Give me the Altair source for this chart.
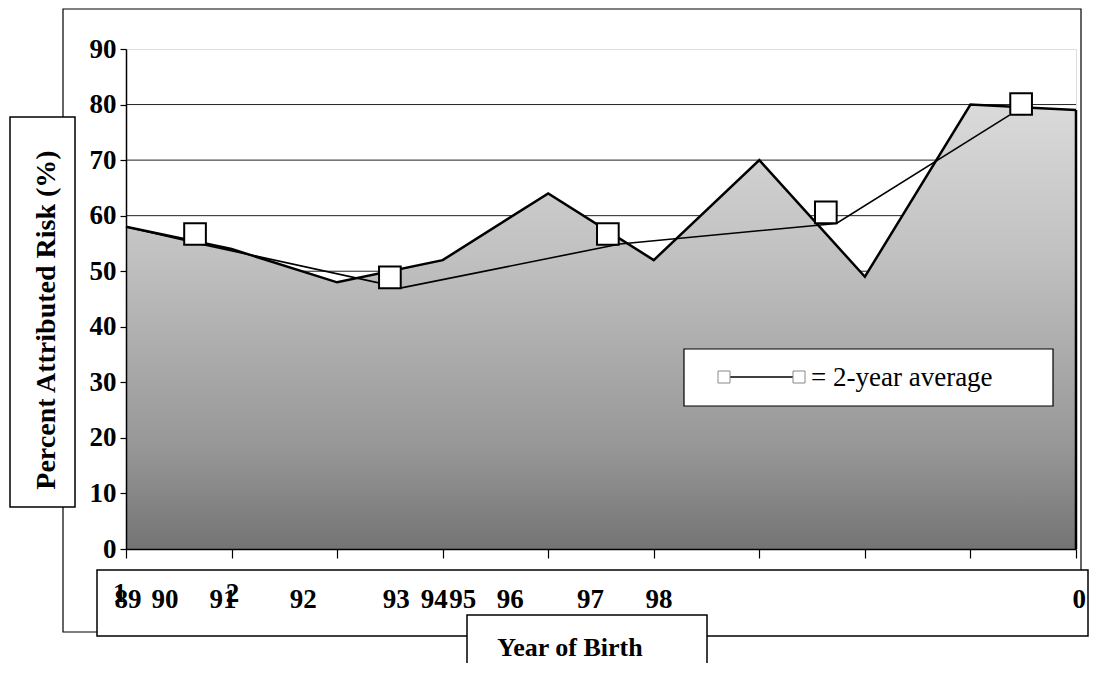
import altair as alt
import pandas as pd

# ---- data ----
idx = list(range(10))
risk = [58, 54, 48, 52, 64, 52, 70, 49, 80, 79]

avg_line_pos = [0.0, 0.755, 2.61, 4.68, 6.73, 8.37]
avg_line_val = [58.0, 54.7, 47.0, 54.9, 58.6, 78.1]
avg_marker_pos = [0.654, 2.50, 4.565, 6.63, 8.48]
avg_marker_val = [56.7, 48.9, 56.7, 60.6, 80.1]

tick_labels = ["89", "90", "91", "92", "93", "94", "95", "96", "97", "98", "0"]
tick_label_pos = [0.02, 0.37, 0.92, 1.68, 2.56, 2.92, 3.19, 3.64, 4.40, 5.05, 9.03]
raised_labels = ["1", "2"]
raised_label_pos = [-0.06, 1.01]

grid_values = [10, 20, 30, 40, 50, 60, 70, 80]
y_ticks = [0, 10, 20, 30, 40, 50, 60, 70, 80, 90]

FONT = "Liberation Serif"

df = pd.DataFrame({"idx": idx, "risk": risk})
df_last = pd.DataFrame({"idx": [idx[-1]], "risk": [risk[-1]], "zero": [0]})
df_avg_line = pd.DataFrame({"idx": avg_line_pos, "risk": avg_line_val})
df_avg_mark = pd.DataFrame({"idx": avg_marker_pos, "risk": avg_marker_val})
df_grid = pd.DataFrame({"idx": [0] * len(grid_values), "risk": grid_values})
df_lab = pd.DataFrame({"idx": tick_label_pos, "lab": tick_labels})
df_rlab = pd.DataFrame({"idx": raised_label_pos, "lab": raised_labels})
one = pd.DataFrame({"a": [0]})

xs = alt.Scale(domain=[0, 9], nice=False, zero=False)
ys = alt.Scale(domain=[0, 90], nice=False, zero=True)

x_axis = alt.Axis(values=idx, labels=False, tickSize=9, tickColor="black",
                  tickWidth=1.2, domainColor="black", domainWidth=1.5,
                  grid=False, title=None, zindex=1)
y_axis = alt.Axis(values=y_ticks, labelFont=FONT, labelFontSize=27,
                  labelFontWeight="bold", labelColor="black",
                  tickSize=6, tickColor="black", tickWidth=1.2,
                  domainColor="black", domainWidth=1.5,
                  grid=False, title=None, labelPadding=4, zindex=1)


def X():
    return alt.X("idx:Q", scale=xs, axis=x_axis, title=None)


def Y():
    return alt.Y("risk:Q", scale=ys, axis=y_axis, title=None)


grid = alt.Chart(df_grid).mark_rule(color="#222222", strokeWidth=1).encode(y=Y())

gradient = alt.Gradient(
    gradient="linear",
    stops=[alt.GradientStop(color="#dadada", offset=0),
           alt.GradientStop(color="#c0c0c0", offset=0.35),
           alt.GradientStop(color="#979797", offset=0.77),
           alt.GradientStop(color="#747474", offset=1)],
    x1=0, x2=0, y1=0, y2=1)

area = alt.Chart(df).mark_area(fill=gradient).encode(x=X(), y=Y())
area_line = alt.Chart(df).mark_line(color="black", strokeWidth=2.5).encode(x=X(), y=Y())
right_edge = alt.Chart(df_last).mark_rule(color="black", strokeWidth=2.5).encode(
    x=X(), y=Y(), y2=alt.Y2("zero"))

avg_line = alt.Chart(df_avg_line).mark_line(color="black", strokeWidth=1.6).encode(x=X(), y=Y())
avg_marks = alt.Chart(df_avg_mark).mark_point(
    shape="square", size=470, filled=True, fill="white", stroke="black",
    strokeWidth=2, opacity=1).encode(x=X(), y=Y())


def box(x1, y1, x2, y2, fill="white", sw=1.5, stroke="black"):
    return alt.Chart(one).mark_rect(fill=fill, stroke=stroke, strokeWidth=sw).encode(
        x=alt.value(x1), x2=alt.value(x2), y=alt.value(y1), y2=alt.value(y2))


outer = alt.Chart(one).mark_rect(fillOpacity=0, fill="white", stroke="black",
                                 strokeWidth=1.2).encode(
    x=alt.value(-63), x2=alt.value(955), y=alt.value(-40), y2=alt.value(583))

ytitle_box = box(-116, 68, -51, 458)
ytitle = alt.Chart(one).mark_text(
    text="Percent Attributed Risk (%)", font=FONT, fontSize=28, fontWeight="bold",
    angle=270, align="center", baseline="middle", color="black").encode(
    x=alt.value(-79), y=alt.value(271))

xlab_box = box(-29, 521, 962, 587)
xlabels = alt.Chart(df_lab).mark_text(
    font=FONT, fontSize=27, fontWeight="bold", align="center",
    baseline="alphabetic", color="black").encode(
    x=X(), y=alt.value(559), text="lab:N")
xlabels_raised = alt.Chart(df_rlab).mark_text(
    font=FONT, fontSize=27, fontWeight="bold", align="center",
    baseline="alphabetic", color="black").encode(
    x=X(), y=alt.value(553), text="lab:N")

xtitle_box = box(341, 566, 581, 700)
xtitle = alt.Chart(one).mark_text(
    text="Year of Birth", font=FONT, fontSize=26, fontWeight="bold",
    align="center", baseline="middle", color="black").encode(
    x=alt.value(444), y=alt.value(599))

legend_box = box(558, 300, 927, 357, sw=1.2)
leg_line = alt.Chart(one).mark_rule(color="black", strokeWidth=1.6).encode(
    x=alt.value(604), x2=alt.value(667), y=alt.value(328))
leg_sq1 = box(592, 322, 604, 334, sw=1, stroke="#888888")
leg_sq2 = box(667, 322, 679, 334, sw=1, stroke="#888888")
leg_text = alt.Chart(one).mark_text(
    text="= 2-year average", font=FONT, fontSize=27, align="left",
    baseline="middle", color="black").encode(x=alt.value(685), y=alt.value(329))

chart = alt.layer(
    outer, grid, area, area_line, right_edge, avg_line, avg_marks,
    ytitle_box, ytitle, xlab_box, xlabels, xlabels_raised, xtitle_box, xtitle,
    legend_box, leg_line, leg_sq1, leg_sq2, leg_text,
).properties(
    width=950, height=500,
    autosize=alt.AutoSizeParams(type="none"),
    padding={"left": 118, "top": 41, "right": 14, "bottom": 114},
).configure_view(stroke="#9a9a9a", strokeWidth=2).configure(background="white")

chart.save("out.html", embed_options={"renderer": "svg", "actions": False})
